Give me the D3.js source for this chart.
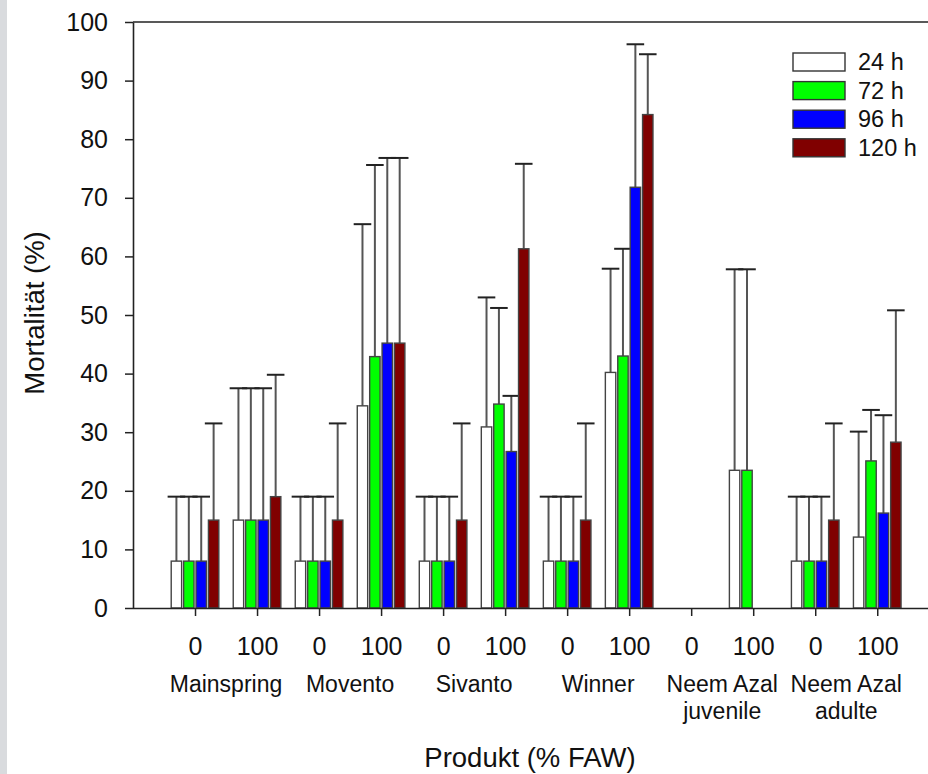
<!DOCTYPE html>
<html>
<head>
<meta charset="utf-8">
<script src="https://cdn.jsdelivr.net/npm/d3@7"></script>
<style>
  html, body { margin: 0; padding: 0; background: #fff; }
  svg { display: block; }
</style>
</head>
<body>
<div id="chart"></div>
<script>
const products = [["Mainspring"], ["Movento"], ["Sivanto"], ["Winner"], ["Neem Azal", "juvenile"], ["Neem Azal", "adulte"]];
const doses = ["0", "100"];
const series = ["24 h", "72 h", "96 h", "120 h"];
const colors = ["#ffffff", "#00ff00", "#0000ff", "#800000"];
const yTicks = [0, 10, 20, 30, 40, 50, 60, 70, 80, 90, 100];

// mean mortality per product/dose (12 slots: product x dose)
const mean24 = [8, 15, 8, 34.5, 8, 30.9, 8, 40.2, 0, 23.5, 8, 12.1];
const mean72 = [8, 15, 8, 42.9, 8, 34.8, 8, 43, 0, 23.5, 8, 25.1];
const mean96 = [8, 15, 8, 45.2, 8, 26.7, 8, 71.8, 0, 0, 8, 16.2];
const mean120 = [15, 19, 15, 45.2, 15, 61.3, 15, 84.2, 0, 0, 15, 28.3];
// upper error (SD)
const sd24 = [11, 22.5, 11, 31, 11, 22.1, 11, 17.7, 0, 34.3, 11, 18];
const sd72 = [11, 22.5, 11, 32.7, 11, 16.4, 11, 18.3, 0, 34.3, 11, 8.7];
const sd96 = [11, 22.5, 11, 31.6, 11, 9.5, 11, 24.4, 0, 0, 11, 16.7];
const sd120 = [16.5, 20.8, 16.5, 31.6, 16.5, 14.5, 16.5, 10.3, 0, 0, 16.5, 22.5];

const means = [mean24, mean72, mean96, mean120];
const sds = [sd24, sd72, sd96, sd120];

const width = 928, height = 774;
const margin = {left: 133, top: 22, bottom: 608};
const font = "Arial, 'Liberation Sans', sans-serif";

const svg = d3.select("#chart").append("svg")
  .attr("width", width).attr("height", height)
  .style("font-family", font);

// grey strip at the left border
svg.append("rect").attr("x", 0).attr("y", 0).attr("width", 7).attr("height", height).attr("fill", "#d9dbde");

const x = d3.scaleLinear().domain([0, 12.77]).range([margin.left, 925]);
const y = d3.scaleLinear().domain([0, 100]).range([margin.bottom, margin.top]);

const slots = d3.range(12).map(i => ({pos: i + 1, dose: doses[i % 2]}));
const step = x(1) - x(0);
const pitch = step * 0.2;
const barW = pitch - 2;
const capHalf = 8.8;

// top frame line
svg.append("line")
  .attr("x1", margin.left).attr("x2", width)
  .attr("y1", y(100)).attr("y2", y(100))
  .attr("stroke", "#222").attr("stroke-width", 1.6);

const data = [];
series.forEach((s, k) => {
  slots.forEach((sl, i) => {
    data.push({k, pos: sl.pos, v: means[k][i], sd: sds[k][i]});
  });
});
const shown = data.filter(d => d.v > 0);

const bx = d => x(d.pos) + (d.k - 1.5) * pitch;

// error bars
const eb = svg.append("g").attr("stroke", "#555").attr("stroke-width", 2);
eb.selectAll("line.v").data(shown).join("line")
  .attr("x1", bx).attr("x2", bx)
  .attr("y1", d => y(d.v)).attr("y2", d => y(d.v + d.sd));
eb.selectAll("line.c").data(shown).join("line")
  .attr("stroke", "#222")
  .attr("x1", d => bx(d) - capHalf).attr("x2", d => bx(d) + capHalf)
  .attr("y1", d => y(d.v + d.sd)).attr("y2", d => y(d.v + d.sd));

// bars
svg.append("g").selectAll("rect").data(shown).join("rect")
  .attr("x", d => bx(d) - barW / 2)
  .attr("y", d => y(d.v))
  .attr("width", barW)
  .attr("height", d => y(0) - y(d.v))
  .attr("fill", d => colors[d.k])
  .attr("stroke", "#444")
  .attr("stroke-width", 1.4);

// x axis
svg.append("g")
  .attr("transform", `translate(0,${y(0)})`)
  .call(d3.axisBottom(x).tickValues(slots.map(d => d.pos))
    .tickFormat((d, i) => slots[i].dose).tickSize(8).tickPadding(21).tickSizeOuter(0))
  .call(g => g.select(".domain").attr("d", `M${margin.left},0.5H${width}`).attr("stroke", "#222").attr("stroke-width", 1.6))
  .call(g => g.selectAll(".tick line").attr("stroke", "#222").attr("stroke-width", 1.5))
  .call(g => g.selectAll(".tick text").attr("font-size", 25).attr("fill", "#111").attr("font-family", font));

// y axis
svg.append("g")
  .attr("transform", `translate(${margin.left},0)`)
  .call(d3.axisLeft(y).tickValues(yTicks).tickSize(8).tickPadding(17).tickSizeOuter(0))
  .call(g => g.select(".domain").attr("stroke", "#222").attr("stroke-width", 1.6))
  .call(g => g.selectAll(".tick line").attr("stroke", "#222").attr("stroke-width", 1.5))
  .call(g => g.selectAll(".tick text").attr("font-size", 25).attr("fill", "#111").attr("font-family", font));

// product labels
const pl = svg.append("g").attr("font-size", 23).attr("fill", "#111").attr("text-anchor", "middle");
products.forEach((p, i) => {
  const cx = (x(2 * i + 1) + x(2 * i + 2)) / 2;
  const t = pl.append("text").attr("x", cx).attr("y", 692);
  p.forEach((line, j) => {
    t.append("tspan").attr("x", cx).attr("dy", j === 0 ? 0 : 27).text(line);
  });
});

// axis titles
svg.append("text")
  .attr("x", 530).attr("y", 767)
  .attr("text-anchor", "middle").attr("font-size", 27.5).attr("fill", "#111")
  .text("Produkt (% FAW)");

svg.append("text")
  .attr("transform", `translate(44,313) rotate(-90)`)
  .attr("text-anchor", "middle").attr("font-size", 27.5).attr("fill", "#111")
  .text("Mortalität (%)");

// legend
const lg = svg.append("g").attr("transform", "translate(793,53)");
series.forEach((s, k) => {
  const row = lg.append("g").attr("transform", `translate(0,${k * 28.6})`);
  row.append("rect").attr("width", 52).attr("height", 18)
    .attr("fill", colors[k]).attr("stroke", "#333").attr("stroke-width", 1.4);
  row.append("text").attr("x", 65).attr("y", 17)
    .attr("font-size", 23.5).attr("fill", "#111").text(s);
});
</script>
</body>
</html>
